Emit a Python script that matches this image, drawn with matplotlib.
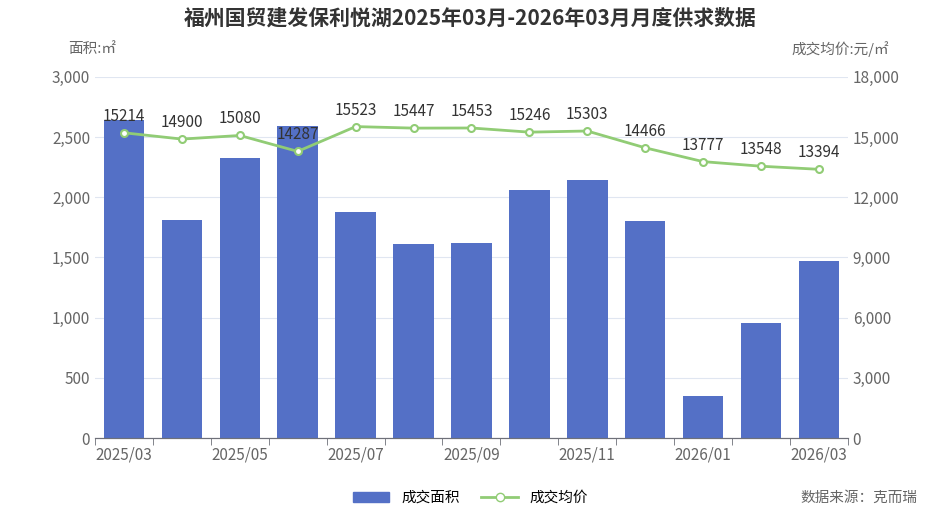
import matplotlib.pyplot as plt
import numpy as np

plt.rcParams['font.family'] = ['Noto Sans CJK SC', 'DejaVu Sans']

months = ['2025/03', '2025/04', '2025/05', '2025/06', '2025/07', '2025/08', '2025/09',
          '2025/10', '2025/11', '2025/12', '2026/01', '2026/02', '2026/03']
area = [2640, 1810, 2330, 2590, 1880, 1610, 1620, 2060, 2140, 1800, 350, 960, 1470]
price = [15214, 14900, 15080, 14287, 15523, 15447, 15453, 15246, 15303, 14466, 13777, 13548, 13394]

fig = plt.figure(figsize=(9.41, 5.16), dpi=100)
ax = fig.add_axes([0.101, 0.151, 0.800, 0.700])
ax2 = ax.twinx()

x = np.arange(len(months))
ax.bar(x, area, width=0.7, color='#5470c6', zorder=2)
ax2.plot(x, price, color='#91cc75', lw=2, marker='o', ms=5, mfc='white', mec='#91cc75', mew=1.5, zorder=3)
for xi, p in zip(x, price):
    ax2.text(xi, p + 400, str(p), ha='center', va='bottom', fontsize=11, color='#333333')

ax.set_xlim(-0.5, len(months) - 0.5)
ax.set_ylim(0, 3000)
ax2.set_ylim(0, 18000)
ax.set_yticks(range(0, 3001, 500))
ax.set_yticklabels([f'{v:,}' for v in range(0, 3001, 500)])
ax2.set_yticks(range(0, 18001, 3000))
ax2.set_yticklabels([f'{v:,}' for v in range(0, 18001, 3000)])
ax.set_xticks(x[::2])
ax.set_xticklabels(months[::2])
ax.set_xticks(np.arange(-0.5, len(months), 1), minor=True)
ax.tick_params(axis='x', which='major', length=0, labelsize=11, colors='#666666', pad=6)
ax.tick_params(axis='x', which='minor', length=5, color='#6e7079')
ax.tick_params(axis='y', length=0, labelsize=11, colors='#666666')
ax2.tick_params(axis='y', length=0, labelsize=11, colors='#666666')
ax.grid(axis='y', color='#e0e6f1', zorder=0)
for a in (ax, ax2):
    for s in ['top', 'left', 'right']:
        a.spines[s].set_visible(False)
    a.spines['bottom'].set_color('#6e7079')

fig.text(0.5, 0.965, '福州国贸建发保利悦湖2025年03月-2026年03月月度供求数据', ha='center', va='center',
         fontsize=15, fontweight='bold', color='#333333')
fig.text(0.072, 0.905, '面积:㎡', fontsize=10.5, color='#666666', va='center')
fig.text(0.945, 0.905, '成交均价:元/㎡', fontsize=10.5, color='#666666', va='center', ha='right')
fig.text(0.975, 0.035, '数据来源：克而瑞', fontsize=10.5, color='#666666', va='center', ha='right')

from matplotlib.patches import Patch
from matplotlib.lines import Line2D
handles = [Patch(color='#5470c6', label='成交面积'),
           Line2D([0], [0], color='#91cc75', lw=2, marker='o', mfc='white', mec='#91cc75', label='成交均价')]
fig.legend(handles=handles, loc='center', bbox_to_anchor=(0.5, 0.035), ncol=2, frameon=False,
           fontsize=10.5, handlelength=2.5, columnspacing=1.5)

fig.savefig('out.png', dpi=100)
